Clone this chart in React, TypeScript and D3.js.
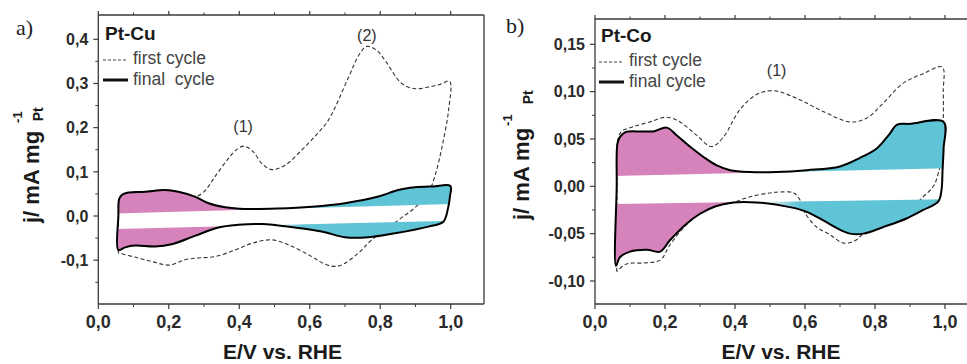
import React from 'react';
import * as d3 from 'd3';

type P = [number, number];

// ---------- tick values / labels ----------
const xMajor = [0, 0.2, 0.4, 0.6, 0.8, 1.0];
const xMajorLabels = ['0,0', '0,2', '0,4', '0,6', '0,8', '1,0'];
const xMinor = [0.1, 0.3, 0.5, 0.7, 0.9];

const cuYMajor = [-0.1, 0, 0.1, 0.2, 0.3, 0.4];
const cuYLabels = ['-0,1', '0,0', '0,1', '0,2', '0,3', '0,4'];
const cuYMinor = [-0.15, -0.05, 0.05, 0.15, 0.25, 0.35];

const coYMajor = [-0.1, -0.05, 0, 0.05, 0.1, 0.15];
const coYLabels = ['-0,10', '-0,05', '0,00', '0,05', '0,10', '0,15'];
const coYMinor = [-0.075, -0.025, 0.025, 0.075, 0.125];

// ---------- Pt-Cu data (E / V, j / mA mg-1) ----------
const cuFinal: P[] = [
  [0.057, -0.077], [0.057, 0.0], [0.059, 0.038], [0.066, 0.047], [0.085, 0.053], [0.133, 0.055],
  [0.189, 0.059], [0.227, 0.055], [0.274, 0.044], [0.313, 0.029], [0.36, 0.02], [0.416, 0.016],
  [0.511, 0.017], [0.606, 0.021], [0.7, 0.029], [0.795, 0.044], [0.851, 0.059], [0.899, 0.065],
  [0.95, 0.067], [0.999, 0.068], [0.998, 0.045], [0.993, 0.02], [0.979, -0.013], [0.937, -0.024],
  [0.842, -0.039], [0.766, -0.048], [0.7, -0.048], [0.634, -0.035], [0.558, -0.026], [0.464, -0.018],
  [0.397, -0.02], [0.341, -0.026], [0.274, -0.045], [0.208, -0.064], [0.161, -0.069], [0.104, -0.067],
  [0.076, -0.071],
];
const cuFirst: P[] = [
  [0.057, -0.084], [0.057, 0.0], [0.059, 0.038], [0.066, 0.047], [0.085, 0.053], [0.133, 0.055],
  [0.189, 0.059], [0.227, 0.055], [0.274, 0.044], [0.3, 0.055], [0.331, 0.089], [0.369, 0.13],
  [0.395, 0.152], [0.415, 0.158], [0.44, 0.145], [0.465, 0.118], [0.492, 0.105], [0.53, 0.115],
  [0.577, 0.149], [0.62, 0.185], [0.653, 0.217], [0.71, 0.314], [0.74, 0.365], [0.762, 0.384],
  [0.79, 0.375], [0.814, 0.352], [0.861, 0.3], [0.899, 0.288], [0.937, 0.292], [0.97, 0.298],
  [0.997, 0.305], [0.994, 0.24], [0.975, 0.155], [0.955, 0.09], [0.935, 0.05], [0.9, 0.02],
  [0.852, -0.009], [0.776, -0.054], [0.738, -0.084], [0.69, -0.111], [0.667, -0.114], [0.64, -0.108],
  [0.606, -0.092], [0.539, -0.065], [0.492, -0.054], [0.435, -0.062], [0.388, -0.077], [0.331, -0.092],
  [0.284, -0.095], [0.246, -0.099], [0.203, -0.111], [0.151, -0.103], [0.104, -0.093], [0.057, -0.084],
];
const cuBandTop: P[] = [[0.06, 0.006], [1.0, 0.027]];
const cuBandBottom: P[] = [[0.06, -0.029], [1.0, -0.011]];
const cuPeakText = ['(1)', '(2)'];
const cuPeakAt: P[] = [[0.411, 0.19], [0.762, 0.397]];

// ---------- Pt-Co data ----------
const coFinal: P[] = [
  [0.06, -0.084], [0.062, 0.0], [0.064, 0.045], [0.071, 0.052], [0.086, 0.057], [0.129, 0.058],
  [0.167, 0.058], [0.205, 0.062], [0.233, 0.054], [0.271, 0.042], [0.31, 0.031], [0.348, 0.022],
  [0.386, 0.017], [0.443, 0.015], [0.519, 0.015], [0.605, 0.017], [0.7, 0.021], [0.757, 0.03],
  [0.805, 0.04], [0.843, 0.056], [0.862, 0.065], [0.9, 0.066], [0.996, 0.068], [0.996, 0.04],
  [0.993, 0.017], [0.99, -0.004], [0.981, -0.016], [0.938, -0.025], [0.89, -0.034], [0.824, -0.043],
  [0.767, -0.05], [0.729, -0.05], [0.69, -0.044], [0.652, -0.036], [0.605, -0.027], [0.557, -0.022],
  [0.462, -0.017], [0.395, -0.017], [0.345, -0.021], [0.3, -0.029], [0.26, -0.04], [0.214, -0.057],
  [0.186, -0.069], [0.148, -0.067], [0.1, -0.069], [0.071, -0.075],
];
const coFirst: P[] = [
  [0.062, -0.09], [0.063, 0.0], [0.066, 0.05], [0.076, 0.058], [0.11, 0.063], [0.157, 0.068],
  [0.205, 0.073], [0.243, 0.068], [0.29, 0.054], [0.333, 0.042], [0.367, 0.052], [0.414, 0.081],
  [0.462, 0.097], [0.51, 0.101], [0.576, 0.093], [0.652, 0.079], [0.729, 0.068], [0.776, 0.072],
  [0.824, 0.088], [0.881, 0.109], [0.938, 0.119], [0.992, 0.126], [0.995, 0.1], [0.995, 0.068],
  [0.99, 0.03], [0.981, 0.014], [0.967, 0.0], [0.938, -0.011], [0.915, -0.02], [0.89, -0.033],
  [0.824, -0.043], [0.767, -0.05], [0.745, -0.057], [0.71, -0.06], [0.671, -0.051], [0.633, -0.043],
  [0.6, -0.028], [0.585, -0.014], [0.568, -0.007], [0.53, -0.006], [0.5, -0.007], [0.443, -0.011],
  [0.395, -0.017], [0.345, -0.021], [0.3, -0.029], [0.26, -0.041], [0.214, -0.062], [0.186, -0.078],
  [0.138, -0.081], [0.09, -0.082], [0.062, -0.09],
];
const coBandTop: P[] = [[0.06, 0.011], [1.0, 0.019]];
const coBandBottom: P[] = [[0.06, -0.0187], [1.0, -0.0137]];
const coPeakText = ['(1)'];
const coPeakAt: P[] = [[0.519, 0.1166]];

const PINK = '#d683bc';
const TEAL = '#60c4d7';
const SANS = "'Liberation Sans', Arial, sans-serif";
const AXIS = '#3a3a3a';

interface PanelProps {
  id: string;
  xDom: [number, number];
  xRange: [number, number];
  yDom: [number, number];
  yRange: [number, number];
  frame: { left: number; right: number; top: number; bottom: number };
  yMajor: number[];
  yLabels: string[];
  yMinor: number[];
  first: P[];
  final: P[];
  bandTop: P[];
  bandBottom: P[];
  peakText: string[];
  peakAt: P[];
  title: string;
  finalLabel: string;
  letter: string;
  letterPos: P;
  legendX: number;
  legendY: number;
  yTitle: { x: number; y: number; supDx: number; subDx: number };
  xTitleX: number;
}

function lineAt(b: P[], E: number) {
  const [[e0, j0], [e1, j1]] = b;
  return j0 + ((j1 - j0) * (E - e0)) / (e1 - e0);
}

function Panel(p: PanelProps) {
  const x = d3.scaleLinear().domain(p.xDom).range(p.xRange);
  const y = d3.scaleLinear().domain(p.yDom).range(p.yRange);
  const f = p.frame;
  const open = d3.line<P>().x(d => x(d[0])).y(d => y(d[1])).curve(d3.curveCatmullRom.alpha(0.5));
  const closed = d3.line<P>().x(d => x(d[0])).y(d => y(d[1])).curve(d3.curveCatmullRomClosed.alpha(0.5));
  const poly = d3.line<P>().x(d => x(d[0])).y(d => y(d[1]));
  const eL = -0.2, eR = 1.3;
  const upper: P[] = [[eL, 2], [eR, 2], [eR, lineAt(p.bandTop, eR)], [eL, lineAt(p.bandTop, eL)]];
  const lower: P[] = [[eL, lineAt(p.bandBottom, eL)], [eR, lineAt(p.bandBottom, eR)], [eR, -2], [eL, -2]];
  const xTicksMajor = xMajor.filter(v => x(v) <= f.right);
  const xTicksMinor = xMinor.filter(v => x(v) <= f.right);

  return (
    <g>
      <defs>
        <clipPath id={`clip-${p.id}`}>
          <path d={closed(p.final) || ''} />
        </clipPath>
        <linearGradient id={`grad-${p.id}`} gradientUnits="userSpaceOnUse" x1={x(0.4)} x2={x(0.58)} y1={0} y2={0}>
          <stop offset="0" stopColor={PINK} />
          <stop offset="0.5" stopColor="#f4f4f4" />
          <stop offset="1" stopColor={TEAL} />
        </linearGradient>
      </defs>
      {/* first cycle (dashed) under the fill */}
      <path d={open(p.first) || ''} fill="none" stroke="#333" strokeWidth={1.1} strokeDasharray="4,2.5" />
      {/* fills */}
      <g clipPath={`url(#clip-${p.id})`}>
        <path d={poly(upper) || ''} fill={`url(#grad-${p.id})`} />
        <path d={poly(lower) || ''} fill={`url(#grad-${p.id})`} />
      </g>
      {/* final cycle */}
      <path d={closed(p.final) || ''} fill="none" stroke="#000" strokeWidth={2} strokeLinejoin="round" />

      {/* frame */}
      <line x1={f.left} x2={f.right} y1={f.top} y2={f.top} stroke={AXIS} strokeWidth={1.3} />
      <line x1={f.left} x2={f.right} y1={f.bottom} y2={f.bottom} stroke={AXIS} strokeWidth={1.3} />
      <line x1={f.left} x2={f.left} y1={f.top} y2={f.bottom} stroke={AXIS} strokeWidth={1.3} />
      <line x1={f.right} x2={f.right} y1={f.top} y2={f.bottom} stroke={AXIS} strokeWidth={1.3} />

      {/* x ticks bottom & top */}
      {xTicksMajor.map((v, i) => (
        <g key={`xm${i}`}>
          <line x1={x(v)} x2={x(v)} y1={f.bottom} y2={f.bottom + 5} stroke={AXIS} strokeWidth={1.2} />
          <line x1={x(v)} x2={x(v)} y1={f.top} y2={f.top - 4} stroke={AXIS} strokeWidth={1.2} />
          <text x={x(v)} y={328} textAnchor="middle" fontFamily={SANS} fontWeight="bold" fontSize={18} fill="#2a2a2a">
            {xMajorLabels[xMajor.indexOf(v)]}
          </text>
        </g>
      ))}
      {xTicksMinor.map((v, i) => (
        <g key={`xn${i}`}>
          <line x1={x(v)} x2={x(v)} y1={f.bottom} y2={f.bottom + 3} stroke={AXIS} strokeWidth={1} />
          <line x1={x(v)} x2={x(v)} y1={f.top} y2={f.top - 2.5} stroke={AXIS} strokeWidth={1} />
        </g>
      ))}
      {/* y ticks */}
      {p.yMajor.map((v, i) => (
        <g key={`ym${i}`}>
          <line x1={f.left - 5} x2={f.left} y1={y(v)} y2={y(v)} stroke={AXIS} strokeWidth={1.2} />
          <text x={f.left - 10} y={y(v)} dy="0.36em" textAnchor="end" fontFamily={SANS} fontWeight="bold" fontSize={16} fill="#2a2a2a">
            {p.yLabels[i]}
          </text>
        </g>
      ))}
      {p.yMinor.map((v, i) => (
        <line key={`yn${i}`} x1={f.left - 3} x2={f.left} y1={y(v)} y2={y(v)} stroke={AXIS} strokeWidth={1} />
      ))}

      {/* peak annotations */}
      {p.peakText.map((t, i) => (
        <text key={`pk${i}`} x={x(p.peakAt[i][0])} y={y(p.peakAt[i][1])} textAnchor="middle" fontFamily={SANS} fontSize={16} fill="#333">
          {t}
        </text>
      ))}

      {/* legend */}
      <text x={p.legendX + 2} y={p.legendY} fontFamily={SANS} fontWeight="bold" fontSize={19} fill="#1a1a1a">{p.title}</text>
      <line x1={p.legendX} x2={p.legendX + 25} y1={p.legendY + 20} y2={p.legendY + 20} stroke="#444" strokeWidth={1.1} strokeDasharray="3,2" />
      <text x={p.legendX + 30} y={p.legendY + 24} fontFamily={SANS} fontSize={17.5} fill="#444">first cycle</text>
      <line x1={p.legendX} x2={p.legendX + 25} y1={p.legendY + 40} y2={p.legendY + 40} stroke="#111" strokeWidth={3} />
      <text x={p.legendX + 30} y={p.legendY + 45} fontFamily={SANS} fontSize={17.5} fill="#444" style={{ whiteSpace: 'pre' }}>{p.finalLabel}</text>

      {/* panel letter */}
      <text x={p.letterPos[0]} y={p.letterPos[1]} fontFamily="'Liberation Serif', 'Times New Roman', serif" fontSize={22} fill="#222">{p.letter}</text>

      {/* y title */}
      <text transform={`translate(${p.yTitle.x},${p.yTitle.y}) rotate(-90)`} fontFamily={SANS} fontWeight="bold" fontSize={22} fill="#1a1a1a">
        j/ mA mg
        <tspan dx={p.yTitle.supDx} dy={-17} fontSize={13}>-1</tspan>
        <tspan dx={p.yTitle.subDx} dy={21} fontSize={14}>Pt</tspan>
      </text>
      {/* x title */}
      <text x={p.xTitleX} y={359} textAnchor="middle" fontFamily={SANS} fontWeight="bold" fontSize={21} fill="#1a1a1a">E/V vs. RHE</text>
    </g>
  );
}

export default function App() {
  return (
    <svg width={967} height={364} style={{ position: 'absolute', left: 0, top: 0, background: '#fff' }}>
      <rect x={0} y={0} width={967} height={364} fill="#fff" />
      <Panel
        id="cu"
        xDom={[0, 1]} xRange={[98.3, 450.7]}
        yDom={[0, 0.4]} yRange={[216, 39.3]}
        frame={{ left: 98.3, right: 484, top: 15, bottom: 304 }}
        yMajor={cuYMajor} yLabels={cuYLabels} yMinor={cuYMinor}
        first={cuFirst} final={cuFinal}
        bandTop={cuBandTop} bandBottom={cuBandBottom}
        peakText={cuPeakText} peakAt={cuPeakAt}
        title="Pt-Cu" finalLabel="final  cycle"
        letter="a)" letterPos={[16, 35]}
        legendX={103} legendY={40}
        yTitle={{ x: 38.5, y: 223, supDx: 8, subDx: -10 }}
        xTitleX={282.5}
      />
      <Panel
        id="co"
        xDom={[0, 1]} xRange={[595, 945]}
        yDom={[0, 0.15]} yRange={[186.3, 44.3]}
        frame={{ left: 595, right: 985, top: 19, bottom: 304 }}
        yMajor={coYMajor} yLabels={coYLabels} yMinor={coYMinor}
        first={coFirst} final={coFinal}
        bandTop={coBandTop} bandBottom={coBandBottom}
        peakText={coPeakText} peakAt={coPeakAt}
        title="Pt-Co" finalLabel="final cycle"
        letter="b)" letterPos={[506, 33]}
        legendX={599} legendY={42}
        yTitle={{ x: 528.5, y: 220, supDx: 2, subDx: 10 }}
        xTitleX={781}
      />
    </svg>
  );
}
